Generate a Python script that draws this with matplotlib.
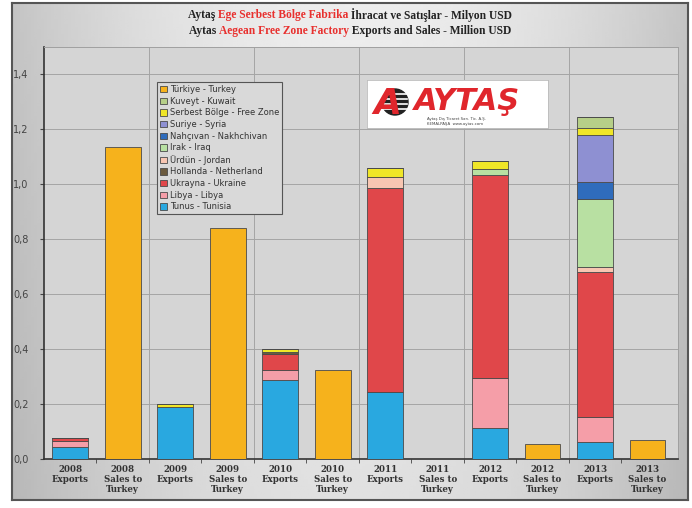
import matplotlib
matplotlib.use('Agg')
import matplotlib.pyplot as plt
import numpy as np
from matplotlib.patches import Rectangle, Circle

# categories (x labels)
categories = ['2008\nExports', '2008\nSales to\nTurkey', '2009\nExports', '2009\nSales to\nTurkey',
              '2010\nExports', '2010\nSales to\nTurkey', '2011\nExports', '2011\nSales to\nTurkey',
              '2012\nExports', '2012\nSales to\nTurkey', '2013\nExports', '2013\nSales to\nTurkey']

# series, stacked bottom -> top (million USD)
tunus    = [0.044, 0, 0.190, 0, 0.288, 0, 0.245, 0, 0.113, 0, 0.062, 0]
libya    = [0.022, 0, 0, 0, 0.035, 0, 0, 0, 0.182, 0, 0.091, 0]
ukrayna  = [0.011, 0, 0, 0, 0.060, 0, 0.740, 0, 0.740, 0, 0.527, 0]
hollanda = [0, 0, 0, 0, 0.007, 0, 0, 0, 0, 0, 0, 0]
urdun    = [0, 0, 0, 0, 0, 0, 0.040, 0, 0, 0, 0.020, 0]
irak     = [0, 0, 0, 0, 0, 0, 0, 0, 0.020, 0, 0.245, 0]
nahcivan = [0, 0, 0, 0, 0, 0, 0, 0, 0, 0, 0.062, 0]
suriye   = [0, 0, 0, 0, 0, 0, 0, 0, 0, 0, 0.173, 0]
serbest  = [0, 0, 0.012, 0, 0.010, 0, 0.033, 0, 0.030, 0, 0.025, 0]
kuveyt   = [0, 0, 0, 0, 0, 0, 0, 0, 0, 0, 0.040, 0]
turkiye  = [0, 1.135, 0, 0.840, 0, 0.325, 0, 0, 0, 0.055, 0, 0.068]

series = [
    ('Tunus - Tunisia', tunus, '#29a8e0'),
    ('Libya - Libya', libya, '#f59ea8'),
    ('Ukrayna - Ukraine', ukrayna, '#e0474a'),
    ('Hollanda - Netherland', hollanda, '#6b5a3e'),
    ('Ürdün - Jordan', urdun, '#f8c6b2'),
    ('Irak - Iraq', irak, '#b8e0a2'),
    ('Nahçıvan - Nakhchivan', nahcivan, '#2f6cbc'),
    ('Suriye - Syria', suriye, '#8e90d2'),
    ('Serbest Bölge - Free Zone', serbest, '#f0e628'),
    ('Kuveyt - Kuwait', kuveyt, '#b6cf88'),
    ('Türkiye - Turkey', turkiye, '#f6b21c'),
]

W, H = 692, 508
fig = plt.figure(figsize=(W / 100, H / 100), dpi=100)
fig.patch.set_facecolor('white')

# grey framed background
bg = fig.add_axes([12 / W, 1 - 500 / H, 676 / W, 497 / H], zorder=-10)
xx = np.linspace(-1, 1, 200)
yy = np.linspace(0, 1, 200)
X, Y = np.meshgrid(xx, yy)
grad = 0.93 - 0.16 * X ** 2 - 0.05 * Y
bg.imshow(grad, cmap='gray', vmin=0, vmax=1, aspect='auto', extent=[0, 1, 0, 1])
bg.set_xticks([])
bg.set_yticks([])
for s in bg.spines.values():
    s.set_color('#555555')
    s.set_linewidth(1.5)

ax = fig.add_axes([44 / W, 1 - 459 / H, 634 / W, 412 / H])
ax.set_facecolor('#d5d5d5')

x = np.arange(len(categories))
bottom = np.zeros(len(categories))
for name, vals, col in series:
    vals = np.array(vals)
    ax.bar(x, vals, 0.68, bottom=bottom, color=col, edgecolor='#4a4a4a',
           linewidth=0.6, label=name, zorder=3)
    bottom += vals

ax.set_xlim(-0.5, 11.58)
ax.set_ylim(0, 1.5)
yt = np.arange(0, 1.41, 0.2)
ax.set_yticks(yt)
ax.set_yticklabels([('%.1f' % v).replace('.', ',') for v in yt], fontsize=7, color='#444444')
ax.set_xticks(x)
ax.set_xticklabels(categories, fontsize=6.2, fontweight='bold', family='DejaVu Serif',
                   color='#333333', linespacing=1.15)
ax.tick_params(axis='x', length=0, pad=4)
ax.set_xticks(np.arange(0.5, 11.5, 1), minor=True)
ax.tick_params(axis='x', which='minor', length=3, color='#444444')
ax.tick_params(axis='y', length=3, color='#444444', pad=8)

for v in yt[1:]:
    ax.axhline(v, color='#a5a5a5', lw=0.7, zorder=1)
for b in np.arange(1.5, 11, 2):
    ax.axvline(b, color='#a5a5a5', lw=0.7, zorder=1)

for k in ['top', 'right']:
    ax.spines[k].set_color('#a0a0a0')
    ax.spines[k].set_linewidth(0.7)
for k in ['left', 'bottom']:
    ax.spines[k].set_color('#333333')
    ax.spines[k].set_linewidth(1.2)

h, l = ax.get_legend_handles_labels()
leg = ax.legend(h[::-1], l[::-1], loc='upper left',
                bbox_to_anchor=(157 / W, 1 - 82 / H), bbox_transform=fig.transFigure,
                fontsize=6, frameon=True, fancybox=False, handlelength=0.8,
                handleheight=0.8, handletextpad=0.4, labelspacing=0.32,
                borderpad=0.35, borderaxespad=0)
leg.get_frame().set_facecolor('#d9d9d9')
leg.get_frame().set_edgecolor('#555555')
leg.get_frame().set_linewidth(0.8)
leg.get_frame().set_alpha(1)
for t in leg.get_texts():
    t.set_color('#333333')

# logo box
lg = fig.add_axes([367 / W, 1 - 128 / H, 181 / W, 48 / H])
lg.set_xlim(0, 181)
lg.set_ylim(0, 48)
lg.set_facecolor('white')
lg.set_xticks([])
lg.set_yticks([])
for s in lg.spines.values():
    s.set_color('#bbbbbb')
    s.set_linewidth(0.6)
lg.add_patch(Circle((28, 26), 13, color='#222222'))
for yy_ in [19, 24, 29, 34]:
    lg.plot([16, 40], [yy_, yy_], color='white', lw=1.2)
lg.text(20, 24, 'A', color='#e0262c', fontsize=26, fontweight='bold', style='italic',
        ha='center', va='center', family='DejaVu Sans')
lg.text(47, 27, 'AYTAŞ', color='#e0262c', fontsize=22, fontweight='bold', style='italic',
        ha='left', va='center', family='DejaVu Sans')
lg.text(60, 8, 'Aytaş Dış Ticaret San. Tic. A.Ş.', color='#444444', fontsize=2.8, ha='left')
lg.text(60, 3, 'KEMALPAŞA  www.aytas.com', color='#444444', fontsize=2.8, ha='left')


# two colour title lines
def colour_line(yfig, parts, size=8.3):
    r = fig.canvas.get_renderer()
    txts = [fig.text(0, yfig, s, color=c, fontsize=size, fontweight='bold',
                     family='Liberation Serif', ha='left', va='center') for s, c in parts]
    ws = [t.get_window_extent(r).width for t in txts]
    xpos = (350 - sum(ws) / 2)
    for t, w in zip(txts, ws):
        t.set_x(xpos / W)
        xpos += w


colour_line(1 - 15 / H, [('Aytaş ', '#222222'), ('Ege Serbest Bölge Fabrika', '#e8302e'),
                         (' İhracat ve Satışlar - Milyon USD', '#222222')])
colour_line(1 - 31 / H, [('Aytas ', '#222222'), ('Aegean Free Zone Factory', '#e8302e'),
                         (' Exports and Sales - Million USD', '#222222')])

fig.savefig('out.png', dpi=100)
